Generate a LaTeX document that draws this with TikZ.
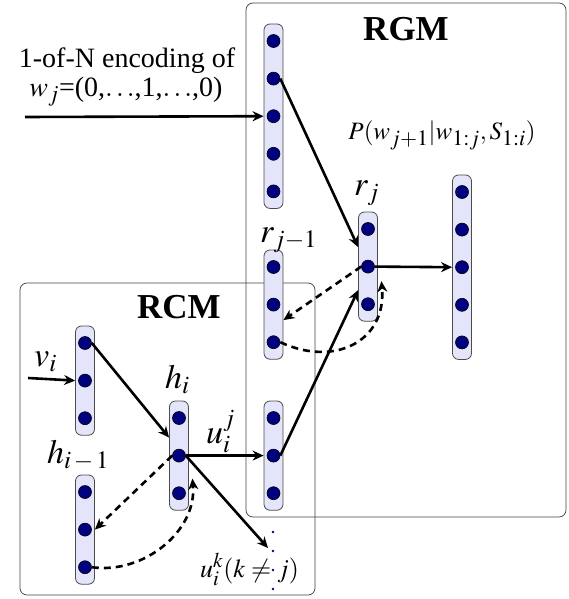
\documentclass[tikz,border=0pt]{standalone}
\usepackage{mathptmx}
\usepackage[no-math]{fontspec}
\setmainfont{Liberation Serif}
\usetikzlibrary{arrows.meta,calc}
\DeclareMathSizes{34}{34}{25}{18}
\DeclareMathSizes{28}{28}{23}{17}
\DeclareMathSizes{26}{26}{21}{15}
\DeclareMathSizes{25}{25}{22}{16}
\definecolor{navyc}{RGB}{0,0,128}
\definecolor{pillc}{RGB}{228,228,250}
\tikzset{
 pill/.style={draw=black!70, fill=pillc, rounded corners=6pt, minimum width=19pt, inner sep=0pt, line width=0.8pt},
 neuron/.style={circle, draw=black, fill=navyc, minimum size=13pt, inner sep=0pt, line width=0.6pt},
 arr/.style={-{Stealth[length=11pt,width=10pt,inset=3.5pt]}, line width=2.6pt},
 darr/.style={arr, dash pattern=on 7pt off 5pt},
 lbl/.style={font=\fontsize{28}{30}\selectfont, inner sep=0pt},
 mlbl/.style={font=\fontsize{34}{36}\selectfont, inner sep=0pt, anchor=base west},
 modbox/.style={draw=black!75, rounded corners=7pt, line width=0.7pt},
 dotc/.style={circle, fill=navyc, minimum size=2.8pt, inner sep=0pt}
}
\newcommand\mklayer[4]{%
  \pgfmathsetmacro\ymid{#3+(#4-1)*18.8}%
  \pgfmathsetmacro\hh{(#4-1)*37.6+34}%
  \node[pill, minimum height=\hh pt] (#1) at (#2,\ymid) {};
  \foreach \k in {1,...,#4}{\pgfmathsetmacro\yy{#3+(\k-1)*37.6}\node[neuron] (#1\k) at (#2,\yy) {};}
}
\begin{document}
\begin{tikzpicture}[x=1pt,y=-1pt]
\useasboundingbox (0,0) rectangle (569,599);
% module boxes
\draw[modbox] (246,3) rectangle (566,517);
\draw[modbox] (20,283) rectangle (315,595);
\node[font=\fontsize{35}{36}\selectfont\bfseries, inner sep=0pt] (tRGM) at (406,29) {RGM};
\node[font=\fontsize{35}{36}\selectfont\bfseries, inner sep=0pt] (tRCM) at (179,307) {RCM};
% layers
\mklayer{W}{273.5}{41}{5}
\mklayer{Q}{273.5}{267}{3}
\mklayer{R}{368}{229}{3}
\mklayer{O}{462}{192}{5}
\mklayer{V}{85}{343}{3}
\mklayer{H}{179}{418}{3}
\mklayer{G}{85}{492}{3}
\mklayer{U}{273.5}{418}{3}
% labels
\node[lbl] (enc1) at (127,61) {1-of-N encoding of};
\node[lbl] (enc2) at (126,92) {$w_j$=(0,$\ldots$,1,$\ldots$,0)};
\node[font=\fontsize{25}{27}\selectfont, inner sep=0pt] (prob) at (442,135) {$P(w_{j+1}|w_{1:j},S_{1:i})$};
\node[mlbl] (lr) at (354,195) {$r_j$};
\node[mlbl] (lq) at (260,242) {$r_{j-1}$};
\node[mlbl] (lv) at (34,366) {$v_i$};
\node[mlbl] (lh) at (165,388) {$h_i$};
\node[mlbl] (lg) at (47,463) {$h_{i\,-\,1}$};
\node[mlbl] (lu) at (206,443) {$u_i^j$};
\node[font=\fontsize{26}{28}\selectfont, inner sep=0pt, anchor=base west] (lk) at (200,577) {$u_i^k(k\neq j)$};
% dots
\foreach \yy [count=\n] in {532,551,570,589} \node[dotc] (d\n) at (273,\yy) {};
% coordinates
\coordinate (inW) at (25,117);
\coordinate (inV) at (28,378);
\coordinate (kend) at (268,548);
% RGM connectors
\draw[arr] (inW) -- (W3 -| W.west);
\draw[arr] (W2.east) -- ([yshift=19.5pt]R.west);
\draw[arr] (R2.east) -- (O3 -| O.west);
\draw[arr] (U2.east) -- ([yshift=-23.5pt]R.west);
\draw[darr] (R2.west) -- ([yshift=-15.5pt]Q.east);
\draw[darr] (Q3.east) to[out=-25,in=-85,looseness=1.3] ([xshift=3.5pt,yshift=-14.5pt]R.east);
% RCM connectors
\draw[arr] (inV) -- (V2 -| V.west);
\draw[arr] (V1.east) -- ([yshift=18pt]H.west);
\draw[arr] (H2.east) -- (U2 -| U.west);
\draw[arr] (H2.east) -- (kend);
\draw[darr] (H2.west) -- (G.east);
\draw[darr] (G3.east) to[out=-8,in=-85] ([xshift=3.5pt,yshift=-23pt]H.east);
\end{tikzpicture}
\end{document}
